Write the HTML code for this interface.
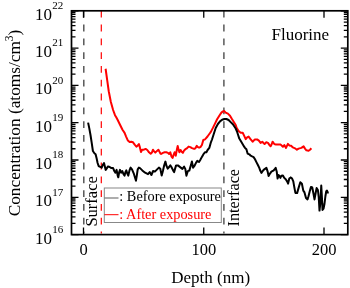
<!DOCTYPE html><html><head><meta charset="utf-8"><style>html,body{margin:0;padding:0;background:#fff;}svg{display:block;will-change:transform;}text{font-family:"Liberation Serif",serif;}</style></head><body>
<svg width="350" height="288" viewBox="0 0 350 288">
<rect width="350" height="288" fill="#fff"/>
<line x1="83.8" y1="10.8" x2="83.8" y2="233.6" stroke="#4d4d4d" stroke-width="1.4" stroke-dasharray="6.8 7"/>
<line x1="101.3" y1="10.8" x2="101.3" y2="233.6" stroke="#f00" stroke-width="1.2" stroke-dasharray="6.8 7"/>
<line x1="223.9" y1="10.8" x2="223.9" y2="233.6" stroke="#4d4d4d" stroke-width="1.4" stroke-dasharray="6.8 7"/>
<polyline points="105.60,68.75 107.30,80.80 108.75,91.25 110.80,101.70 113.10,110.00 115.00,115.20 116.25,117.30 117.70,120.00 119.40,123.50 122.50,129.80 124.60,132.90 126.10,136.60 127.90,140.60 129.60,142.00 131.30,141.70 133.00,142.30 134.70,144.60 136.40,146.60 137.60,145.70 138.90,144.00 139.90,147.40 141.00,152.00 142.10,149.70 143.90,149.70 145.60,148.90 147.30,150.00 149.00,152.30 150.70,153.70 151.90,152.60 153.00,149.70 154.10,151.40 155.30,152.60 157.00,150.90 158.40,149.70 159.30,151.40 160.40,153.50 161.10,154.00 162.90,152.90 164.60,152.30 166.30,152.30 168.00,152.90 169.10,154.00 170.30,152.30 171.40,156.30 172.60,158.00 173.70,154.60 174.60,152.30 175.80,155.70 176.90,149.40 177.70,146.00 178.50,149.40 179.40,152.30 180.60,150.00 181.70,151.70 182.90,152.90 184.00,150.60 185.40,149.20 186.90,148.30 188.60,146.60 190.30,147.10 192.00,148.10 194.10,148.90 195.40,148.30 196.80,145.80 197.90,147.10 199.10,147.70 200.40,147.10 201.90,145.00 203.30,140.00 205.00,139.30 205.70,138.60 207.50,136.50 209.30,134.00 210.70,132.10 212.90,127.90 215.00,123.60 217.10,119.30 219.30,115.70 221.40,112.60 222.90,111.40 224.30,111.10 225.70,112.60 227.90,113.60 230.00,115.70 232.10,119.30 234.30,122.80 235.70,125.00 236.60,127.80 238.60,131.00 240.70,132.70 242.70,132.70 244.00,135.40 245.70,139.20 247.40,137.10 248.60,136.60 250.30,138.90 252.60,141.70 254.90,139.40 257.10,139.40 258.90,140.60 260.60,142.90 262.30,141.70 263.40,142.90 264.60,144.00 266.30,142.30 268.00,142.90 269.50,145.10 270.60,146.30 271.80,144.00 272.60,141.70 274.30,144.00 276.00,144.60 278.30,144.60 280.70,144.60 282.90,146.80 284.30,145.00 286.00,147.90 287.90,143.90 289.30,145.40 291.10,145.70 292.90,147.40 295.00,148.30 296.90,149.70 298.60,148.60 301.40,147.90 303.60,146.40 305.00,148.60 306.40,150.30 308.60,150.70 310.00,149.70 311.40,148.30" fill="none" stroke="#f00" stroke-width="2" stroke-linejoin="round"/>
<polyline points="88.10,122.60 89.30,128.40 90.50,135.00 91.60,142.20 92.90,151.00 94.40,153.20 95.60,154.20 96.60,158.30 97.60,163.00 98.70,166.10 99.70,166.70 101.70,167.60 102.90,164.70 104.00,163.00 105.10,167.60 105.70,169.90 106.90,168.10 108.00,166.40 109.70,167.00 111.40,168.10 113.10,168.10 114.30,171.00 115.40,172.70 116.60,169.90 117.70,175.60 118.30,177.30 119.20,172.10 120.00,169.90 121.10,172.70 122.30,171.00 123.40,173.90 124.60,175.60 125.40,172.10 126.30,170.40 127.20,173.30 128.30,175.60 129.50,170.40 130.60,167.60 132.00,169.30 133.70,173.30 134.90,177.30 136.00,180.70 136.80,175.60 137.70,169.30 138.90,167.60 140.00,168.10 142.30,170.40 145.10,172.70 148.00,174.20 149.70,172.10 151.40,175.00 153.10,171.00 154.90,171.60 156.60,169.90 158.90,167.60 160.30,168.70 161.70,175.60 162.90,171.00 164.20,165.30 165.40,161.60 166.50,165.90 167.70,168.70 169.10,167.00 170.30,165.30 171.40,167.00 173.10,170.40 174.10,172.10 175.40,167.60 176.10,165.40 177.90,165.40 180.10,167.10 182.40,168.90 184.10,166.60 185.30,168.90 186.40,175.70 187.80,171.10 189.30,170.60 191.00,164.90 191.90,161.40 193.10,167.70 194.40,166.00 196.10,162.60 197.30,160.90 199.00,162.00 200.10,160.30 201.90,156.90 203.60,154.00 204.90,152.30 206.40,152.30 207.60,150.00 209.30,147.90 210.70,142.90 212.00,139.50 213.60,134.50 215.70,128.00 217.90,124.00 220.00,121.40 222.10,119.70 224.30,119.00 226.40,119.00 228.60,120.00 230.70,122.10 232.90,124.30 235.70,128.50 237.00,131.50 238.20,135.20 239.30,138.60 241.40,142.10 243.60,145.70 245.00,147.90 246.40,149.30 247.60,153.60 249.30,154.30 250.70,155.70 252.10,156.40 253.60,157.10 255.00,159.30 256.40,162.10 257.90,165.00 259.30,167.90 260.00,170.00 261.40,172.90 262.90,170.70 264.30,169.30 266.40,167.90 267.60,171.40 268.60,176.00 270.00,173.60 271.40,171.70 273.30,170.70 274.70,169.30 275.70,167.90 276.70,171.40 277.60,178.60 278.60,175.00 279.60,176.40 280.40,177.90 281.40,175.70 282.90,175.40 284.30,177.90 285.70,179.30 287.10,181.40 288.10,183.60 289.30,178.60 290.70,177.40 292.10,178.60 293.30,181.40 294.30,187.10 295.40,192.90 297.10,193.10 298.60,187.90 300.30,182.20 301.90,183.70 303.30,190.60 304.50,192.40 306.00,198.10 307.50,199.40 308.50,196.25 309.75,191.25 311.00,186.90 312.25,187.50 313.50,193.75 314.50,199.40 315.75,192.50 316.60,188.10 317.90,190.00 318.75,197.50 319.50,210.60 320.40,202.50 321.25,185.60 322.00,198.75 322.50,210.00 323.50,208.75 324.50,203.75 325.40,196.25 326.25,191.25 327.00,190.60 327.50,192.50 328.75,192.50" fill="none" stroke="#000" stroke-width="2" stroke-linejoin="round"/>
<path d="M71.5,234.60h7M347.8,234.60h-7M71.5,223.37h4M347.8,223.37h-4M71.5,216.80h4M347.8,216.80h-4M71.5,212.14h4M347.8,212.14h-4M71.5,208.53h4M347.8,208.53h-4M71.5,205.57h4M347.8,205.57h-4M71.5,203.08h4M347.8,203.08h-4M71.5,200.91h4M347.8,200.91h-4M71.5,199.01h4M347.8,199.01h-4M71.5,197.30h7M347.8,197.30h-7M71.5,186.07h4M347.8,186.07h-4M71.5,179.50h4M347.8,179.50h-4M71.5,174.84h4M347.8,174.84h-4M71.5,171.23h4M347.8,171.23h-4M71.5,168.27h4M347.8,168.27h-4M71.5,165.78h4M347.8,165.78h-4M71.5,163.61h4M347.8,163.61h-4M71.5,161.71h4M347.8,161.71h-4M71.5,160.00h7M347.8,160.00h-7M71.5,148.77h4M347.8,148.77h-4M71.5,142.20h4M347.8,142.20h-4M71.5,137.54h4M347.8,137.54h-4M71.5,133.93h4M347.8,133.93h-4M71.5,130.97h4M347.8,130.97h-4M71.5,128.48h4M347.8,128.48h-4M71.5,126.31h4M347.8,126.31h-4M71.5,124.41h4M347.8,124.41h-4M71.5,122.70h7M347.8,122.70h-7M71.5,111.47h4M347.8,111.47h-4M71.5,104.90h4M347.8,104.90h-4M71.5,100.24h4M347.8,100.24h-4M71.5,96.63h4M347.8,96.63h-4M71.5,93.67h4M347.8,93.67h-4M71.5,91.18h4M347.8,91.18h-4M71.5,89.01h4M347.8,89.01h-4M71.5,87.11h4M347.8,87.11h-4M71.5,85.40h7M347.8,85.40h-7M71.5,74.17h4M347.8,74.17h-4M71.5,67.60h4M347.8,67.60h-4M71.5,62.94h4M347.8,62.94h-4M71.5,59.33h4M347.8,59.33h-4M71.5,56.37h4M347.8,56.37h-4M71.5,53.88h4M347.8,53.88h-4M71.5,51.71h4M347.8,51.71h-4M71.5,49.81h4M347.8,49.81h-4M71.5,48.10h7M347.8,48.10h-7M71.5,36.87h4M347.8,36.87h-4M71.5,30.30h4M347.8,30.30h-4M71.5,25.64h4M347.8,25.64h-4M71.5,22.03h4M347.8,22.03h-4M71.5,19.07h4M347.8,19.07h-4M71.5,16.58h4M347.8,16.58h-4M71.5,14.41h4M347.8,14.41h-4M71.5,12.51h4M347.8,12.51h-4M71.5,10.80h7M347.8,10.80h-7M83.50,234.6v-7M83.50,10.8v7M203.75,234.6v-7M203.75,10.8v7M324.00,234.6v-7M324.00,10.8v7" stroke="#000" stroke-width="1.3" fill="none"/>
<rect x="71.5" y="10.8" width="276.3" height="223.79999999999998" fill="none" stroke="#000" stroke-width="1.7"/>
<text x="51.9" y="243.60" font-size="17" text-anchor="end">10</text>
<text x="52.3" y="232.90" font-size="11">16</text>
<text x="51.9" y="206.30" font-size="17" text-anchor="end">10</text>
<text x="52.3" y="195.60" font-size="11">17</text>
<text x="51.9" y="169.00" font-size="17" text-anchor="end">10</text>
<text x="52.3" y="158.30" font-size="11">18</text>
<text x="51.9" y="131.70" font-size="17" text-anchor="end">10</text>
<text x="52.3" y="121.00" font-size="11">19</text>
<text x="51.9" y="94.40" font-size="17" text-anchor="end">10</text>
<text x="52.3" y="83.70" font-size="11">20</text>
<text x="51.9" y="57.10" font-size="17" text-anchor="end">10</text>
<text x="52.3" y="46.40" font-size="11">21</text>
<text x="51.9" y="19.80" font-size="17" text-anchor="end">10</text>
<text x="52.3" y="9.10" font-size="11">22</text>
<text x="83.50" y="254.8" font-size="16.5" text-anchor="middle">0</text>
<text x="203.75" y="254.8" font-size="16.5" text-anchor="middle">100</text>
<text x="324.00" y="254.8" font-size="16.5" text-anchor="middle">200</text>
<text x="210.7" y="283.1" font-size="17" text-anchor="middle">Depth (nm)</text>
<text transform="translate(19.8,216.3) rotate(-90)" font-size="17.3">Concentration (atoms/cm<tspan dy="-7" font-size="11.5">3</tspan><tspan dy="7">)</tspan></text>
<text x="271.5" y="40.3" font-size="17">Fluorine</text>
<text transform="translate(97.1,226.6) rotate(-90)" font-size="16.5">Surface</text>
<text transform="translate(239.4,226.5) rotate(-90)" font-size="16.2">Interface</text>
<rect x="104.3" y="188" width="117" height="34.5" fill="#fff" stroke="#888" stroke-width="1"/>
<line x1="104.3" y1="198" x2="118.5" y2="198" stroke="#777" stroke-width="1.2"/>
<line x1="104.3" y1="214.7" x2="118.5" y2="214.7" stroke="#f00" stroke-width="1"/>
<text x="119.3" y="201.4" font-size="14.3">: Before exposure</text>
<text x="119.3" y="218.6" font-size="14.3" fill="#f00">: After exposure</text>
</svg></body></html>
